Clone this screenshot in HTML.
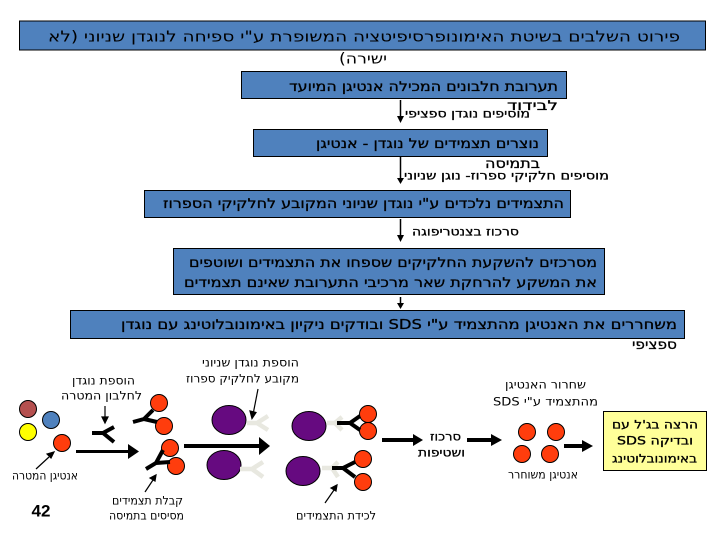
<!DOCTYPE html>
<html><head><meta charset="utf-8"><style>
html,body{margin:0;padding:0;background:#fff}
svg{display:block}
text{font-family:"DejaVu Sans","Liberation Sans",sans-serif;direction:rtl;text-anchor:start;fill:#000;dominant-baseline:middle}
.t{font-size:15px}.b{font-size:13.500px;stroke:#000;stroke-width:.3px}.s{font-size:11.500px}.m{font-size:11.500px;stroke:#000;stroke-width:.3px}
</style></head><body>
<svg width="720" height="540" viewBox="0 0 720 540" xmlns="http://www.w3.org/2000/svg">
<g fill="#4f81bd" stroke="#000" stroke-width="1">
<rect x="19.500" y="21" width="686" height="29"/>
<rect x="241.500" y="71.500" width="325" height="27"/>
<rect x="253.500" y="129.500" width="294" height="27"/>
<rect x="144.500" y="190.500" width="426" height="27"/>
<rect x="173.500" y="248.500" width="431" height="46"/>
<rect x="70.500" y="310.500" width="614" height="28"/>
<rect x="603.500" y="411.500" width="103" height="59" fill="#ffff99"/>
</g>
<g fill="#000"><path d="M400.500 100V117" stroke="#000" stroke-width="1.500"/><path d="M397 116h7l-3.500 7z"/>
<path d="M400.500 157V178" stroke="#000" stroke-width="1.500"/><path d="M397 178h7l-3.500 6z"/>
<path d="M400.500 219V236" stroke="#000" stroke-width="1.500"/><path d="M397 235h7l-3.500 7z"/>
<path d="M400.500 297V304" stroke="#000" stroke-width="1.500"/><path d="M397 303h7l-3.500 6z"/></g>
<text class="t" x="680" y="37" textLength="632" lengthAdjust="spacingAndGlyphs">פירוט השלבים  בשיטת  האימונופרסיפיטציה המשופרת ע"י ספיחה לנוגדן שניוני (לא</text>
<text class="t" x="387" y="59" textLength="48" lengthAdjust="spacingAndGlyphs">ישירה)</text>
<text class="b" x="558" y="87" textLength="269" lengthAdjust="spacingAndGlyphs">תערובת חלבונים המכילה אנטיגן המיועד</text>
<text class="b" x="558" y="106" textLength="51" lengthAdjust="spacingAndGlyphs">לבידוד</text>
<text class="m" x="530" y="114" textLength="125" lengthAdjust="spacingAndGlyphs">מוסיפים נוגדן ספציפי</text>
<text class="b" x="539" y="144" textLength="223" lengthAdjust="spacingAndGlyphs">נוצרים תצמידים של נוגדן - אנטיגן</text>
<text class="b" x="540" y="164" textLength="55" lengthAdjust="spacingAndGlyphs">בתמיסה</text>
<text class="m" x="609" y="176" textLength="205" lengthAdjust="spacingAndGlyphs">מוסיפים חלקיקי ספרוז- נוגן שניוני</text>
<text class="b" x="564" y="204" textLength="401" lengthAdjust="spacingAndGlyphs">התצמידים נלכדים ע"י נוגדן שניוני המקובע לחלקיקי הספרוז</text>
<text class="m" x="519" y="232" textLength="107" lengthAdjust="spacingAndGlyphs">סרכוז בצנטריפוגה</text>
<text class="b" x="597" y="263" textLength="408" lengthAdjust="spacingAndGlyphs">מסרכזים להשקעת החלקיקים שספחו את התצמידים ושוטפים</text>
<text class="b" x="597" y="283" textLength="413" lengthAdjust="spacingAndGlyphs">את המשקע  להרחקת שאר מרכיבי התערובת שאינם תצמידים</text>
<text class="b" x="677" y="325" textLength="556" lengthAdjust="spacingAndGlyphs">משחררים את האנטיגן מהתצמיד ע"י  SDS  ובודקים ניקיון באימונובלוטינג עם נוגדן</text>
<text class="b" x="677" y="345" textLength="45" lengthAdjust="spacingAndGlyphs">ספציפי</text>

<text class="s" x="135" y="381" textLength="63" lengthAdjust="spacingAndGlyphs">הוספת נוגדן</text>
<text class="s" x="142" y="396" textLength="81" lengthAdjust="spacingAndGlyphs">לחלבון המטרה</text>
<text class="s" x="78" y="476" textLength="66" lengthAdjust="spacingAndGlyphs">אנטיגן המטרה</text>
<text class="s" x="183" y="501" textLength="71" lengthAdjust="spacingAndGlyphs">קבלת תצמידים</text>
<text class="s" x="184" y="516" textLength="75" lengthAdjust="spacingAndGlyphs">מסיסים בתמיסה</text>
<text class="s" x="299" y="363" textLength="97" lengthAdjust="spacingAndGlyphs">הוספת נוגדן שניוני</text>
<text class="s" x="299" y="379" textLength="113" lengthAdjust="spacingAndGlyphs">מקובע לחלקיק ספרוז</text>
<text class="s" x="376" y="516" textLength="80" lengthAdjust="spacingAndGlyphs">לכידת התצמידים</text>
<text class="s" x="586" y="385" textLength="81" lengthAdjust="spacingAndGlyphs">שחרור האנטיגן</text>
<text class="s" x="598" y="402" textLength="105" lengthAdjust="spacingAndGlyphs">מהתצמיד ע"י SDS</text>
<text class="s" x="578" y="475" textLength="70" lengthAdjust="spacingAndGlyphs">אנטיגן משוחרר</text>
<text class="m" x="461" y="437" textLength="31" lengthAdjust="spacingAndGlyphs">סרכוז</text>
<text class="m" x="465" y="453" textLength="47" lengthAdjust="spacingAndGlyphs">ושטיפות</text>
<text class="m" x="698" y="425" textLength="86" lengthAdjust="spacingAndGlyphs">הרצה בג'ל עם</text>
<text class="m" x="693" y="441" textLength="76" lengthAdjust="spacingAndGlyphs">ובדיקה SDS</text>
<text class="m" x="697" y="459" textLength="85" lengthAdjust="spacingAndGlyphs">באימונובלוטינג</text>
<text x="41" y="512" style="font-family:'Liberation Sans',sans-serif;font-size:17px;font-weight:bold;direction:ltr;text-anchor:middle">42</text>

<g stroke="#000" stroke-width="1">
<circle cx="28" cy="409" r="8.500" fill="#b5504f"/>
<circle cx="51" cy="420" r="8.500" fill="#4f81bd"/>
<circle cx="28" cy="432" r="8.500" fill="#ffff00"/>
<circle cx="62" cy="443" r="8.500" fill="#ff3d0d"/>
<circle cx="159" cy="403" r="8.500" fill="#ff3d0d"/>
<circle cx="164" cy="426" r="8.500" fill="#ff3d0d"/>
<circle cx="170" cy="448" r="8.500" fill="#ff3d0d"/>
<circle cx="176" cy="466" r="8.500" fill="#ff3d0d"/>
<circle cx="368" cy="414" r="8.500" fill="#ff3d0d"/>
<circle cx="368" cy="431" r="8.500" fill="#ff3d0d"/>
<circle cx="363" cy="459" r="8.500" fill="#ff3d0d"/>
<circle cx="363" cy="482" r="8.500" fill="#ff3d0d"/>
<circle cx="527" cy="432" r="8.500" fill="#ff3d0d"/>
<circle cx="556" cy="432" r="8.500" fill="#ff3d0d"/>
<circle cx="522" cy="454" r="8.500" fill="#ff3d0d"/>
<circle cx="550" cy="454" r="8.500" fill="#ff3d0d"/>
<ellipse cx="229" cy="420" rx="17" ry="14.500" fill="#660a80"/>
<ellipse cx="224" cy="465" rx="17" ry="14.500" fill="#660a80"/>
<ellipse cx="309" cy="426" rx="17" ry="14.500" fill="#660a80"/>
<ellipse cx="303" cy="471" rx="17" ry="14.500" fill="#660a80"/>
</g>
<g fill="none" stroke="#e8e8e0" stroke-width="4.500">
<path d="M247 423H257L268 416M257 423L268 430"/>
<path d="M240 469H252L263 462M252 469L263 477"/>
<path d="M327 423H335L342 417M335 423L342 430"/>
<path d="M322 468H332L338 462M332 468L338 477"/>
</g>
<g fill="none" stroke="#000" stroke-width="4">
<path d="M92 433H103L114 427M103 433L114 442"/>
<path d="M133 422L144 419L153 410M144 419L157 422"/>
<path d="M146 469L156 463L163 450M156 463L170 462"/>
<path d="M337 423H350L360 416M350 423L360 430"/>
<path d="M332 468H343L355 462M343 468L355 477"/>
</g>
<g fill="#000">
<rect x="76" y="450" width="52" height="3"/><path d="M128 444L139 451.500L128 459Z"/>
<rect x="184" y="444" width="77" height="4"/><path d="M259 437L270 446L259 455Z"/>
<rect x="382" y="438" width="33" height="4"/><path d="M413 434L423 440L413 446Z"/>
<rect x="467" y="438" width="26" height="4"/><path d="M491 434L502 440L491 446Z"/>
<rect x="564" y="444" width="20" height="4"/><path d="M582 440L593 446L582 452Z"/>
</g>
<g stroke="#000" stroke-width="1.200">
<path d="M105 406V418"/><path d="M102 417h6l-3 6z" fill="#000"/>
<path d="M258 389L253.500 412"/><path d="M250 411l6 1.500-4 6z" fill="#000"/>
<path d="M36 469L49 457"/><path d="M47 454l4 4 3-6z" fill="#000"/>
<path d="M145 492L153 480"/><path d="M150 478l5 3 1-6z" fill="#000"/>
<path d="M325 503L334 490"/><path d="M331 488l5 3 1-6z" fill="#000"/>
</g>
</svg>
</body></html>
